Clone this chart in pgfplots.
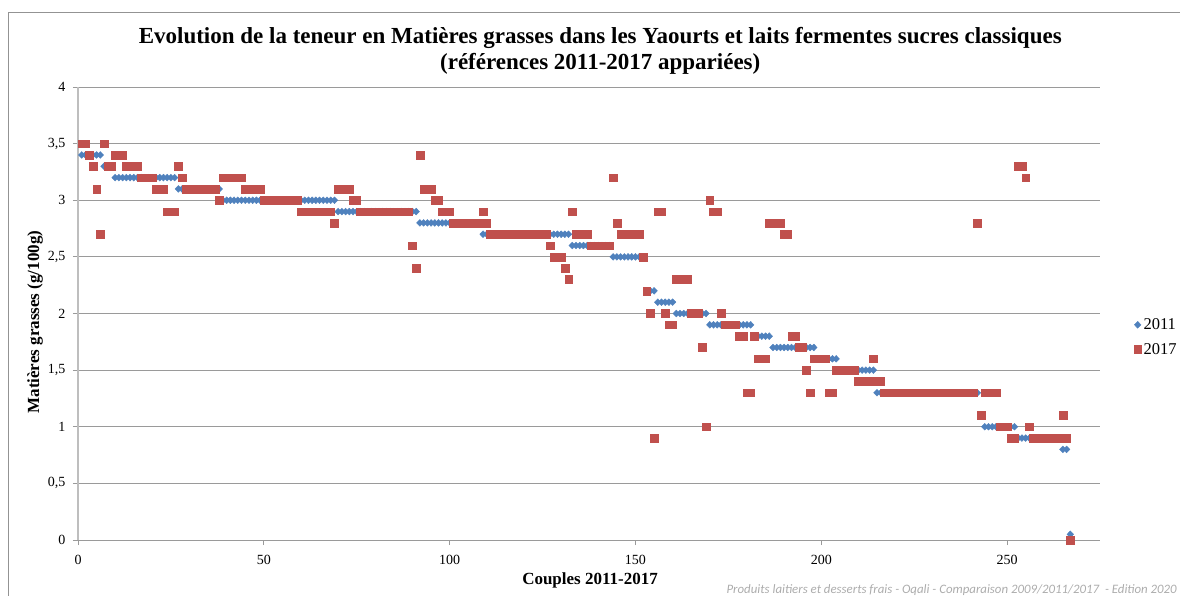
\documentclass[border=0pt]{standalone}
\usepackage{pgfplots}
\pgfplotsset{compat=1.18}
\usepackage{fontspec}
\setmainfont{Liberation Serif}
\newfontfamily\footfont{Carlito}
\definecolor{c2011}{HTML}{4F81BD}
\definecolor{c2017}{HTML}{C0504D}
\definecolor{gridgray}{HTML}{9A9A9A}
\definecolor{axgray}{HTML}{BEBEBE}
\begin{document}
\begin{tikzpicture}
\useasboundingbox (0,0) rectangle (1180bp,-596bp);
\draw[color=gray!85, line width=1bp] (8bp,-600bp) -- (8bp,-12bp) -- (1190bp,-12bp);
\begin{axis}[
  at={(78bp,-540bp)}, anchor=south west,
  scale only axis, width=1022bp, height=453bp,
  xmin=0, xmax=275, ymin=0, ymax=4,
  xtick={0,50,...,250}, ytick={0,0.5,...,4},
  clip=false,
  axis lines=left,
  x axis line style={draw=gridgray, line width=1bp, -},
  y axis line style={draw=axgray, line width=2bp, -},
  ymajorgrids, grid style={draw=gridgray, line width=1bp},
  tick align=outside, major tick length=5bp,
  tick style={draw=gridgray, line width=1bp},
  /pgf/number format/assume math mode=true,
  /pgf/number format/use comma,
  /pgf/number format/fixed,
  tick label style={font=\fontsize{14bp}{16bp}\selectfont},
  xticklabel style={yshift=-7bp},
  yticklabel style={xshift=-4bp},
  xlabel={Couples 2011-2017},
  xlabel style={at={(axis description cs:0.501,-0.090)}, anchor=center, font=\bfseries\fontsize{17bp}{20bp}\selectfont},
  ylabel={Matières grasses (g/100g)},
  ylabel style={at={(axis description cs:-0.042,0.481)}, anchor=center, rotate=0, font=\bfseries\fontsize{17bp}{20bp}\selectfont},
  title={Evolution de la teneur en Matières grasses dans les Yaourts et laits fermentes sucres classiques\\(références 2011-2017 appariées)},
  title style={at={(axis description cs:0.511,1.067)}, anchor=center, align=center, font=\bfseries\fontsize{23bp}{25.5bp}\selectfont},
  legend style={at={(axis description cs:1.030,0.448)}, anchor=west, draw=none, fill=none, font=\fontsize{16.5bp}{18bp}\selectfont, row sep=8bp},
  legend cell align=left,
]
\addplot[only marks, mark=diamond*, mark size=3.4bp, mark options={xscale=1.3}, color=c2011] coordinates {
(1,3.4)(2,3.4)(3,3.4)(4,3.4)(5,3.4)(6,3.4)
(7,3.3)(8,3.3)(9,3.3)
(10,3.2)(11,3.2)(12,3.2)(13,3.2)(14,3.2)(15,3.2)(16,3.2)(17,3.2)(18,3.2)(19,3.2)(20,3.2)(21,3.2)(22,3.2)(23,3.2)(24,3.2)(25,3.2)(26,3.2)
(27,3.1)(28,3.1)(29,3.1)(30,3.1)(31,3.1)(32,3.1)(33,3.1)(34,3.1)(35,3.1)(36,3.1)(37,3.1)(38,3.1)
(39,3.0)(40,3.0)(41,3.0)(42,3.0)(43,3.0)(44,3.0)(45,3.0)(46,3.0)(47,3.0)(48,3.0)(49,3.0)(50,3.0)(51,3.0)(52,3.0)(53,3.0)(54,3.0)
(55,3.0)(56,3.0)(57,3.0)(58,3.0)(59,3.0)(60,3.0)(61,3.0)(62,3.0)(63,3.0)(64,3.0)(65,3.0)(66,3.0)(67,3.0)(68,3.0)(69,3.0)
(70,2.9)(71,2.9)(72,2.9)(73,2.9)(74,2.9)(75,2.9)(76,2.9)(77,2.9)(78,2.9)(79,2.9)(80,2.9)(81,2.9)(82,2.9)(83,2.9)(84,2.9)
(85,2.9)(86,2.9)(87,2.9)(88,2.9)(89,2.9)(90,2.9)(91,2.9)
(92,2.8)(93,2.8)(94,2.8)(95,2.8)(96,2.8)(97,2.8)(98,2.8)(99,2.8)(100,2.8)(101,2.8)(102,2.8)(103,2.8)(104,2.8)(105,2.8)(106,2.8)(107,2.8)(108,2.8)
(109,2.7)(110,2.7)(111,2.7)(112,2.7)(113,2.7)(114,2.7)(115,2.7)(116,2.7)(117,2.7)(118,2.7)(119,2.7)(120,2.7)
(121,2.7)(122,2.7)(123,2.7)(124,2.7)(125,2.7)(126,2.7)(127,2.7)(128,2.7)(129,2.7)(130,2.7)(131,2.7)(132,2.7)
(133,2.6)(134,2.6)(135,2.6)(136,2.6)(137,2.6)(138,2.6)(139,2.6)(140,2.6)(141,2.6)(142,2.6)(143,2.6)
(144,2.5)(145,2.5)(146,2.5)(147,2.5)(148,2.5)(149,2.5)(150,2.5)(151,2.5)(152,2.5)
(153,2.2)(154,2.2)(155,2.2)
(156,2.1)(157,2.1)(158,2.1)(159,2.1)(160,2.1)
(161,2.0)(162,2.0)(163,2.0)(164,2.0)(165,2.0)(166,2.0)(167,2.0)(168,2.0)(169,2.0)
(170,1.9)(171,1.9)(172,1.9)(173,1.9)(174,1.9)(175,1.9)(176,1.9)(177,1.9)(178,1.9)(179,1.9)(180,1.9)(181,1.9)
(182,1.8)(183,1.8)(184,1.8)(185,1.8)(186,1.8)
(187,1.7)(188,1.7)(189,1.7)(190,1.7)(191,1.7)(192,1.7)(193,1.7)(194,1.7)(195,1.7)(196,1.7)(197,1.7)(198,1.7)
(199,1.6)(200,1.6)(201,1.6)(202,1.6)(203,1.6)(204,1.6)
(205,1.5)(206,1.5)(207,1.5)(208,1.5)(209,1.5)(210,1.5)(211,1.5)(212,1.5)(213,1.5)(214,1.5)
(215,1.3)(216,1.3)(217,1.3)(218,1.3)(219,1.3)(220,1.3)(221,1.3)(222,1.3)(223,1.3)(224,1.3)(225,1.3)(226,1.3)(227,1.3)(228,1.3)
(229,1.3)(230,1.3)(231,1.3)(232,1.3)(233,1.3)(234,1.3)(235,1.3)(236,1.3)(237,1.3)(238,1.3)(239,1.3)(240,1.3)(241,1.3)(242,1.3)
(243,1.1)
(244,1.0)(245,1.0)(246,1.0)(247,1.0)(248,1.0)(249,1.0)(250,1.0)(251,1.0)(252,1.0)
(253,0.9)(254,0.9)(255,0.9)(256,0.9)(257,0.9)(258,0.9)(259,0.9)(260,0.9)(261,0.9)(262,0.9)(263,0.9)(264,0.9)
(265,0.8)(266,0.8)
(267,0.05)
};
\addlegendentry{2011}
\addplot[only marks, mark=square*, mark size=3.85bp, color=c2017] coordinates {
(1,3.5)(2,3.5)(3,3.4)(4,3.3)(5,3.1)(6,2.7)(7,3.5)(8,3.3)(9,3.3)
(10,3.4)(11,3.4)(12,3.4)
(13,3.3)(14,3.3)(15,3.3)(16,3.3)
(17,3.2)(18,3.2)(19,3.2)(20,3.2)
(21,3.1)(22,3.1)(23,3.1)
(24,2.9)(25,2.9)(26,2.9)
(27,3.3)(28,3.2)
(29,3.1)(30,3.1)(31,3.1)(32,3.1)(33,3.1)(34,3.1)(35,3.1)(36,3.1)(37,3.1)
(38,3.0)
(39,3.2)(40,3.2)(41,3.2)(42,3.2)(43,3.2)(44,3.2)
(45,3.1)(46,3.1)(47,3.1)(48,3.1)(49,3.1)
(50,3.0)(51,3.0)(52,3.0)(53,3.0)(54,3.0)(55,3.0)(56,3.0)(57,3.0)(58,3.0)(59,3.0)
(60,2.9)(61,2.9)(62,2.9)(63,2.9)(64,2.9)(65,2.9)(66,2.9)(67,2.9)(68,2.9)
(69,2.8)
(70,3.1)(71,3.1)(72,3.1)(73,3.1)
(74,3.0)(75,3.0)
(76,2.9)(77,2.9)(78,2.9)(79,2.9)(80,2.9)(81,2.9)(82,2.9)(83,2.9)(84,2.9)(85,2.9)(86,2.9)(87,2.9)(88,2.9)(89,2.9)
(90,2.6)(91,2.4)(92,3.4)
(93,3.1)(94,3.1)(95,3.1)
(96,3.0)(97,3.0)
(98,2.9)(99,2.9)(100,2.9)
(101,2.8)(102,2.8)(103,2.8)(104,2.8)(105,2.8)(106,2.8)(107,2.8)(108,2.8)
(109,2.9)(110,2.8)
(111,2.7)(112,2.7)(113,2.7)(114,2.7)(115,2.7)(116,2.7)(117,2.7)(118,2.7)(119,2.7)(120,2.7)(121,2.7)(122,2.7)(123,2.7)(124,2.7)(125,2.7)(126,2.7)
(127,2.6)
(128,2.5)(129,2.5)(130,2.5)
(131,2.4)(132,2.3)(133,2.9)
(134,2.7)(135,2.7)(136,2.7)(137,2.7)
(138,2.6)(139,2.6)(140,2.6)(141,2.6)(142,2.6)(143,2.6)
(144,3.2)(145,2.8)
(146,2.7)(147,2.7)(148,2.7)(149,2.7)(150,2.7)(151,2.7)
(152,2.5)(153,2.2)(154,2.0)(155,0.9)
(156,2.9)(157,2.9)
(158,2.0)
(159,1.9)(160,1.9)
(161,2.3)(162,2.3)(163,2.3)(164,2.3)
(165,2.0)(166,2.0)(167,2.0)
(168,1.7)(169,1.0)(170,3.0)
(171,2.9)(172,2.9)
(173,2.0)
(174,1.9)(175,1.9)(176,1.9)(177,1.9)
(178,1.8)(179,1.8)
(180,1.3)(181,1.3)
(182,1.8)
(183,1.6)(184,1.6)(185,1.6)
(186,2.8)(187,2.8)(188,2.8)(189,2.8)
(190,2.7)(191,2.7)
(192,1.8)(193,1.8)
(194,1.7)(195,1.7)
(196,1.5)(197,1.3)
(198,1.6)(199,1.6)(200,1.6)(201,1.6)
(202,1.3)(203,1.3)
(204,1.5)(205,1.5)(206,1.5)(207,1.5)(208,1.5)(209,1.5)
(210,1.4)(211,1.4)(212,1.4)(213,1.4)(214,1.6)(215,1.4)(216,1.4)
(217,1.3)(218,1.3)(219,1.3)(220,1.3)(221,1.3)(222,1.3)(223,1.3)(224,1.3)(225,1.3)(226,1.3)(227,1.3)(228,1.3)(229,1.3)
(230,1.3)(231,1.3)(232,1.3)(233,1.3)(234,1.3)(235,1.3)(236,1.3)(237,1.3)(238,1.3)(239,1.3)(240,1.3)(241,1.3)
(242,2.8)(243,1.1)
(244,1.3)(245,1.3)(246,1.3)(247,1.3)
(248,1.0)(249,1.0)(250,1.0)
(251,0.9)(252,0.9)
(253,3.3)(254,3.3)(255,3.2)(256,1.0)
(257,0.9)(258,0.9)(259,0.9)(260,0.9)(261,0.9)(262,0.9)(263,0.9)(264,0.9)
(265,1.1)(266,0.9)(267,0.0)
};
\addlegendentry{2017}
\end{axis}
\node[anchor=base east, inner sep=0pt, text=gray!65, font=\footfont\itshape\fontsize{12.85bp}{14bp}\selectfont] at (1177bp,-593bp) {Produits laitiers et desserts frais - Oqali - Comparaison 2009/2011/2017 \ - Edition 2020};
\end{tikzpicture}
\end{document}
